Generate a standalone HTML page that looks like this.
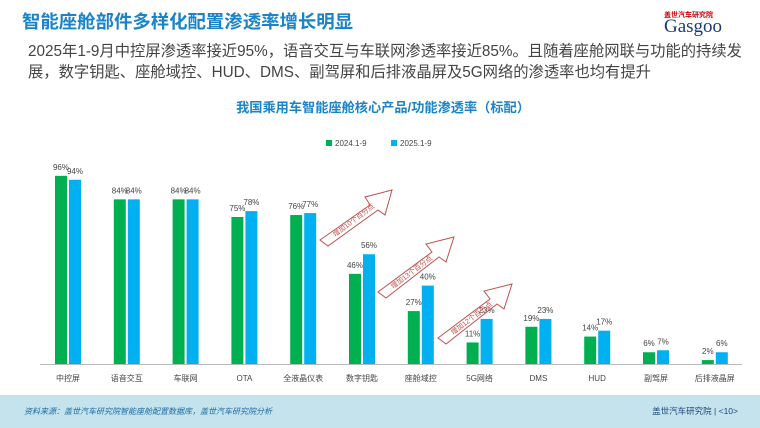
<!DOCTYPE html>
<html><head><meta charset="utf-8"><style>
body{margin:0;width:760px;height:428px;background:#fff;position:relative;overflow:hidden;font-family:"Liberation Sans","Noto Sans CJK SC",sans-serif}
.t{position:absolute;white-space:nowrap}
</style></head><body>
<div class="t" style="left:22px;top:8px;font-size:18.4px;font-weight:bold;color:#1a84c8">智能座舱部件多样化配置渗透率增长明显</div>
<div class="t" style="left:664px;top:10px;font-size:7px;color:#c00;font-weight:bold">盖世汽车研究院</div>
<div class="t" style="left:664px;top:16px;font-size:19px;color:#1a3a7a;font-family:'Liberation Serif',serif">Gasgoo</div>
<div class="t" style="left:28px;top:41px;font-size:15.3px;line-height:21px;color:#444">2025年1-9月中控屏渗透率接近95%，语音交互与车联网渗透率接近85%。且随着座舱网联与功能的持续发<br>展，数字钥匙、座舱域控、HUD、DMS、副驾屏和后排液晶屏及5G网络的渗透率也均有提升</div>
<div class="t" style="left:0;width:766px;text-align:center;top:97px;font-size:13.2px;font-weight:bold;color:#1a84c8">我国乘用车智能座舱核心产品/功能渗透率（标配）</div>
<svg width="760" height="428" style="position:absolute;left:0;top:0" font-family="Liberation Sans,Noto Sans CJK SC,sans-serif">
<rect x="326" y="140" width="6" height="6" fill="#00b050"/><text x="335" y="146" font-size="8" fill="#444">2024.1-9</text>
<rect x="391" y="140" width="6" height="6" fill="#00b0f0"/><text x="400" y="146" font-size="8" fill="#444">2025.1-9</text>
<line x1="40" y1="364.5" x2="742" y2="364.5" stroke="#bbb"/>
<g id="bars"></g>
<g fill="none" stroke="#c0504d" stroke-width="1">
<polygon points="320,240 370,205 365,197 392,190 385,215 378,210 328,246" />
<polygon points="378,292 432,252 426,244 454,237 446,262 439,257 386,298"/>
<polygon points="438,338 490,299 484,291 512,284 504,309 497,304 446,344"/>
</g>
<text x="355" y="222" font-size="7" fill="#c0504d" transform="rotate(-37 355 222)" text-anchor="middle">增加10个百分点</text>
<text x="413" y="274" font-size="7" fill="#c0504d" transform="rotate(-37 413 274)" text-anchor="middle">增加13个百分点</text>
<text x="473" y="320" font-size="7" fill="#c0504d" transform="rotate(-37 473 320)" text-anchor="middle">增加12个百分点</text>
<rect x="0" y="395" width="760" height="33" fill="#c5e3ec"/>
<text x="24" y="414" font-size="8" fill="#1a6aa0" font-style="italic">资料来源：盖世汽车研究院智能座舱配置数据库，盖世汽车研究院分析</text>
<text x="738" y="414" font-size="8.5" fill="#1a4a7a" text-anchor="end">盖世汽车研究院 | &lt;10&gt;</text>
</svg>
<script>
var d=[["中控屏",96,94],["语音交互",84,84],["车联网",84,84],["OTA",75,78],["全液晶仪表",76,77],["数字钥匙",46,56],["座舱域控",27,40],["5G网络",11,23],["DMS",19,23],["HUD",14,17],["副驾屏",6,7],["后排液晶屏",2,6]];
var s="",k=1.96,b=364;
d.forEach(function(r,i){var c=68+i*58.8;
var h1=r[1]*k,h2=r[2]*k;
s+='<rect x="'+(c-13)+'" y="'+(b-h1)+'" width="12" height="'+h1+'" fill="#00b050"/>';
s+='<rect x="'+(c+1)+'" y="'+(b-h2)+'" width="12" height="'+h2+'" fill="#00b0f0"/>';
s+='<text x="'+(c-7)+'" y="'+(b-h1-6)+'" font-size="8" fill="#444" text-anchor="middle">'+r[1]+'%</text>';
s+='<text x="'+(c+7)+'" y="'+(b-h2-6)+'" font-size="8" fill="#444" text-anchor="middle">'+r[2]+'%</text>';
s+='<text x="'+c+'" y="381" font-size="8" fill="#444" text-anchor="middle">'+r[0]+'</text>';});
document.getElementById("bars").innerHTML=s;
</script>
</body></html>
